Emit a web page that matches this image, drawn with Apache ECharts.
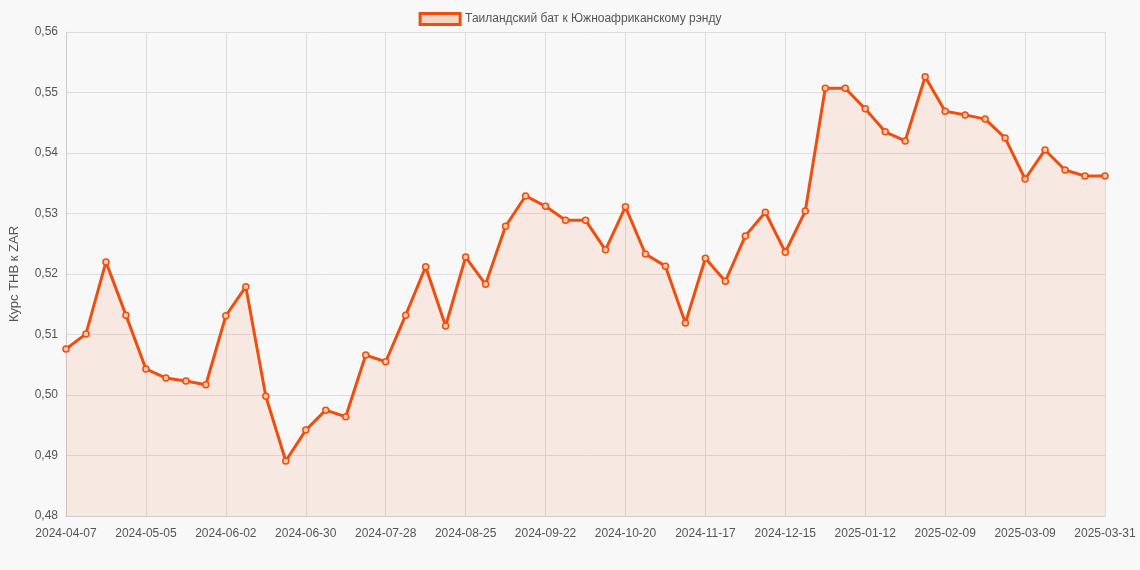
<!DOCTYPE html>
<html style="height: 100%">
<head>
    <meta charset="utf-8">
    <title>THB/ZAR</title>
</head>
<body style="height: 100%; margin: 0; background: #f8f8f8">
    <div id="container" style="height: 100%"></div>
    <script type="text/javascript" src="https://cdn.jsdelivr.net/npm/echarts@6/dist/echarts.min.js"></script>
    <script type="text/javascript">
        var dates = [
            '2024-04-07','2024-04-14','2024-04-21','2024-04-28','2024-05-05','2024-05-12','2024-05-19','2024-05-26',
            '2024-06-02','2024-06-09','2024-06-16','2024-06-23','2024-06-30','2024-07-07','2024-07-14','2024-07-21',
            '2024-07-28','2024-08-04','2024-08-11','2024-08-18','2024-08-25','2024-09-01','2024-09-08','2024-09-15',
            '2024-09-22','2024-09-29','2024-10-06','2024-10-13','2024-10-20','2024-10-27','2024-11-03','2024-11-10',
            '2024-11-17','2024-11-24','2024-12-01','2024-12-08','2024-12-15','2024-12-22','2024-12-29','2025-01-05',
            '2025-01-12','2025-01-19','2025-01-26','2025-02-02','2025-02-09','2025-02-16','2025-02-23','2025-03-02',
            '2025-03-09','2025-03-16','2025-03-23','2025-03-30','2025-03-31'
        ];
        var rates = [
            0.5076, 0.5101, 0.5220, 0.5132, 0.5043, 0.5028, 0.5023, 0.5017,
            0.5131, 0.5179, 0.4998, 0.4891, 0.4942, 0.4975, 0.4964, 0.5066,
            0.5055, 0.5132, 0.5212, 0.5114, 0.5228, 0.5183, 0.5279, 0.5329,
            0.5312, 0.5289, 0.5289, 0.5240, 0.5311, 0.5233, 0.5213, 0.5119,
            0.5226, 0.5188, 0.5263, 0.5302, 0.5236, 0.5304, 0.5507, 0.5507,
            0.5473, 0.5435, 0.5420, 0.5526, 0.5469, 0.5463, 0.5456, 0.5425,
            0.5357, 0.5405, 0.5372, 0.5362, 0.5362
        ];
        var seriesName = 'Таиландский бат к Южноафриканскому рэнду';

        var myChart = echarts.init(document.getElementById('container'));
        var option = {
            backgroundColor: '#f8f8f8',
            textStyle: { fontFamily: 'Liberation Sans, Arial, sans-serif' },
            legend: {
                top: 7,
                icon: 'rect',
                itemWidth: 40,
                itemHeight: 11,
                textStyle: { color: '#555', fontSize: 12 },
                data: [{
                    name: seriesName,
                    itemStyle: { color: '#f8d6c6', borderColor: '#f04e0e', borderWidth: 3 }
                }]
            },
            grid: { left: 62, right: 35, top: 32, bottom: 54 },
            xAxis: {
                type: 'category',
                boundaryGap: false,
                data: dates,
                axisLine: { lineStyle: { color: '#ccc' } },
                axisTick: { show: false },
                axisLabel: { interval: 3, color: '#555', fontSize: 12, margin: 12 },
                splitLine: { show: true, interval: 3, lineStyle: { color: '#ddd' } }
            },
            yAxis: {
                type: 'value',
                min: 0.48,
                max: 0.56,
                interval: 0.01,
                name: 'Курс THB к ZAR',
                nameLocation: 'middle',
                nameGap: 45,
                nameTextStyle: { color: '#555', fontSize: 13 },
                axisLine: { show: true, lineStyle: { color: '#ccc' } },
                axisLabel: {
                    color: '#555', fontSize: 12,
                    formatter: function (v) { return v.toFixed(2).replace('.', ','); }
                },
                splitLine: { lineStyle: { color: '#ddd' } }
            },
            series: [{
                name: seriesName,
                type: 'line',
                data: rates,
                symbol: 'circle',
                symbolSize: 6,
                itemStyle: { color: '#f6c6ad', borderColor: '#f04e0e', borderWidth: 1.5 },
                lineStyle: { color: '#f04e0e', width: 3 },
                areaStyle: { color: 'rgba(245,120,70,0.18)' }
            }]
        };
        myChart.setOption(option, true);
    </script>
</body>
</html>
